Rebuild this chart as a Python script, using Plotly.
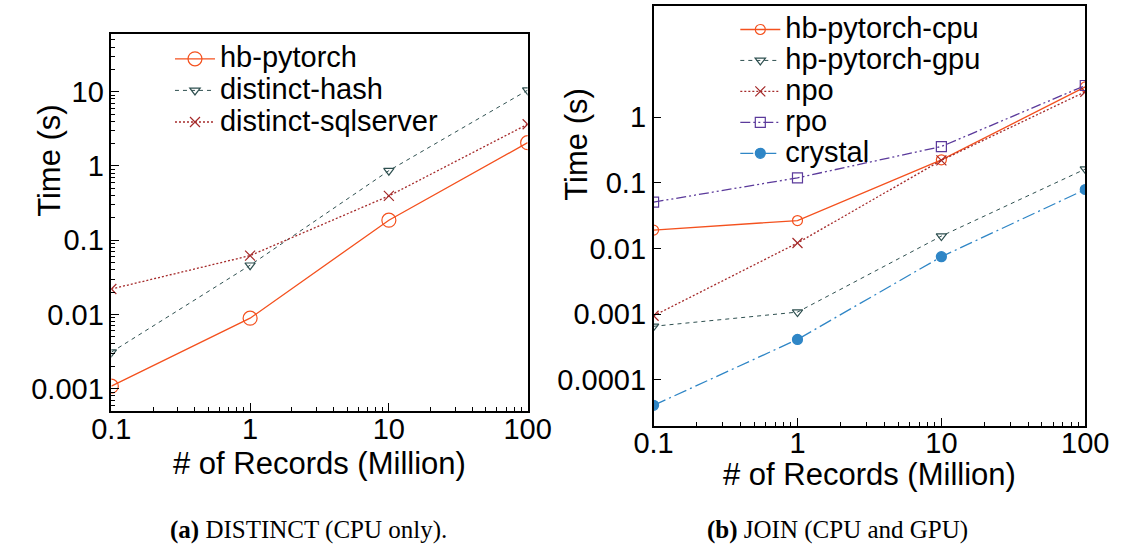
import plotly.graph_objects as go

# ---- data ----
records = [0.1, 1, 10, 100]  # million records

# (a) DISTINCT
distinct_hb_pytorch = [0.00108, 0.0089, 0.186, 2.06]
distinct_hash = [0.0031, 0.046, 0.865, 10.5]
distinct_sqlserver = [0.022, 0.062, 0.395, 3.65]

# (b) JOIN
join_hb_cpu = [0.019, 0.0266, 0.224, 2.9]
join_hp_gpu = [0.00065, 0.00107, 0.0154, 0.162]
join_npo = [0.00094, 0.0121, 0.22, 2.44]
join_rpo = [0.0508, 0.119, 0.357, 3.04]
join_crystal = [0.0000406, 0.00041, 0.00747, 0.079]

x_ticks = [0.1, 1, 10, 100]
x_ticktext = ["0.1", "1", "10", "100"]
y_ticks_a = [0.001, 0.01, 0.1, 1, 10]
y_ticktext_a = ["0.001", "0.01", "0.1", "1", "10"]
y_ticks_b = [0.0001, 0.001, 0.01, 0.1, 1]
y_ticktext_b = ["0.0001", "0.001", "0.01", "0.1", "1"]

FONT = "Liberation Sans, Arial, sans-serif"
SERIF = "Liberation Serif, Times New Roman, serif"
ORANGE = "#f4511e"
SLATE = "#2f5050"
BROWN = "#a52a2a"
PURPLE = "#5b3a9b"
BLUE = "#2f86c6"
W, H = 1141, 552


def log_minor(lo_exp, hi_exp, lo=None, hi=None):
    """2..9 multiples of every decade between 10**lo_exp and 10**hi_exp."""
    vals = []
    for e in range(lo_exp, hi_exp):
        for m in range(2, 10):
            v = m * 10.0 ** e
            if (lo is None or v >= lo) and (hi is None or v <= hi):
                vals.append(v)
    return vals


fig = go.Figure()


def add(x, y, name, color, dash, symbol, size, xa, ya, legend, width=1.3):
    fig.add_trace(go.Scatter(
        x=x, y=y, mode="lines+markers",
        name=f"<span style='font-size:29px'>{name}</span>",
        line=dict(color=color, dash=dash, width=width),
        marker=dict(symbol=symbol, size=size, color=color,
                    line=dict(color=color, width=1.2)),
        xaxis=xa, yaxis=ya, legend=legend,
    ))


add(records, distinct_hb_pytorch, "hb-pytorch", ORANGE, "solid", "circle-open", 14, "x", "y", "legend")
add(records, distinct_hash, "distinct-hash", SLATE, "4px,4px", "triangle-down-open", 9, "x", "y", "legend", 1.0)
add(records, distinct_sqlserver, "distinct-sqlserver", BROWN, "2px,2px", "x-thin-open", 10, "x", "y", "legend")

add(records, join_hb_cpu, "hb-pytorch-cpu", ORANGE, "solid", "circle-open", 10, "x2", "y2", "legend2")
add(records, join_hp_gpu, "hp-pytorch-gpu", SLATE, "4px,4px", "triangle-down-open", 9, "x2", "y2", "legend2", 1.0)
add(records, join_npo, "npo", BROWN, "2px,2px", "x-thin-open", 10, "x2", "y2", "legend2")
add(records, join_rpo, "rpo", PURPLE, "10px,3px,2px,3px,2px,3px", "square-open", 10, "x2", "y2", "legend2")
add(records, join_crystal, "crystal", BLUE, "13px,4px,2px,4px", "circle", 10, "x2", "y2", "legend2")

axis_common = dict(
    type="log", showline=True, mirror=True, linecolor="black", linewidth=1.5,
    ticks="inside", ticklen=8, tickwidth=1, tickcolor="black",
    showgrid=False, zeroline=False,
    tickfont=dict(family=FONT, size=29, color="black"),
)
minor_x = dict(ticks="inside", ticklen=4, tickwidth=1, tickcolor="black",
               showgrid=False, tickvals=log_minor(-1, 2))
minor_ya = dict(ticks="inside", ticklen=4, tickwidth=1, tickcolor="black",
                showgrid=False, tickvals=log_minor(-4, 2, 0.0005, 60))

dom_a = [95 / W, 528 / W]
dom_b = [659 / W, 1108 / W]

fig.update_layout(
    width=W, height=H,
    margin=dict(l=0, r=0, t=0, b=0),
    paper_bgcolor="white", plot_bgcolor="white",
    font=dict(family=FONT, color="black"),
    xaxis=dict(
        **axis_common, domain=dom_a, range=[-1, 2],
        tickvals=x_ticks, ticktext=x_ticktext, anchor="y",
        minor=minor_x, ticklabelstandoff=-9,
    ),
    yaxis=dict(
        **axis_common, domain=[1 - 411 / H, 1 - 34 / H],
        range=[-3.301, 1.778], tickvals=y_ticks_a, ticktext=y_ticktext_a, anchor="x",
        minor=minor_ya,
    ),
    xaxis2=dict(
        **axis_common, domain=dom_b, range=[-1, 2],
        tickvals=x_ticks, ticktext=x_ticktext, anchor="y2",
        minor=minor_x, ticklabelstandoff=-9,
    ),
    yaxis2=dict(
        **axis_common, domain=[1 - 425.5 / H, 1 - 5.7 / H],
        range=[-4.699, 1.699], tickvals=y_ticks_b, ticktext=y_ticktext_b, anchor="x2",
    ),
    legend=dict(
        x=156 / W, y=1 - 38 / H, xanchor="left", yanchor="top",
        bgcolor="rgba(0,0,0,0)", font=dict(family=FONT, size=22),
        tracegroupgap=0, itemwidth=40,
    ),
    legend2=dict(
        x=744 / W, y=1 - 9 / H, xanchor="left", yanchor="top",
        bgcolor="rgba(0,0,0,0)", font=dict(family=FONT, size=21.5),
        tracegroupgap=0, itemwidth=40,
    ),
    showlegend=True,
)


def label(text, x, y, size, angle=0, family=FONT):
    fig.add_annotation(
        text=text, x=x / W, y=1 - y / H, xref="paper", yref="paper",
        showarrow=False, xanchor="center", yanchor="middle", textangle=angle,
        font=dict(family=family, size=size, color="black"),
    )


# axis titles
label("Time (s)", 31, 160, 31, angle=-90)
label("# of Records (Million)", 311.5, 463, 31)
label("Time (s)", 578, 144, 31, angle=-90)
label("# of Records (Million)", 883.5, 474, 31)

# panel captions
label("<b>(a)</b> DISTINCT (CPU only).", 300, 530, 25, family=SERIF)
label("<b>(b)</b> JOIN (CPU and GPU)", 850, 530, 25, family=SERIF)

fig.write_html("out.html")
